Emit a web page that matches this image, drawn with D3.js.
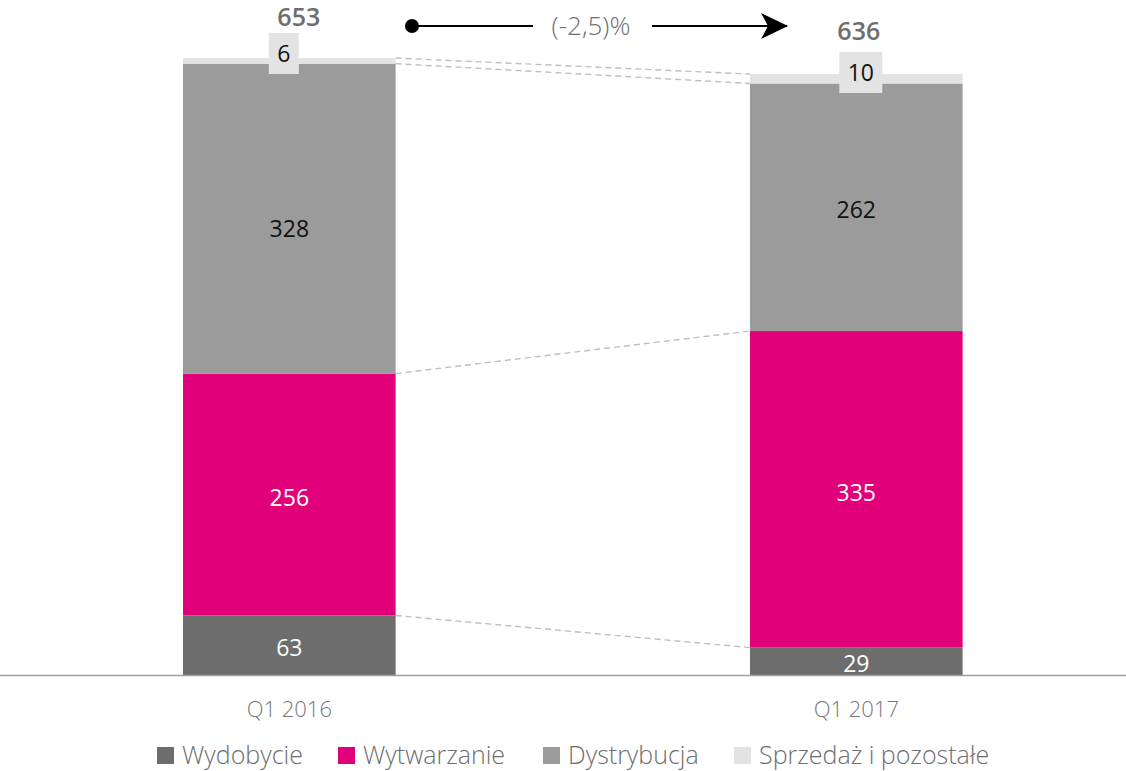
<!DOCTYPE html>
<html><head><meta charset="utf-8">
<script src="https://cdn.jsdelivr.net/npm/d3@7"></script>
<style>body{margin:0;background:#fff}svg{display:block}text{font-family:"Open Sans",sans-serif}</style>
</head><body>
<svg id="c" width="1126" height="771"></svg>
<script>
const categories = ["Q1 2016", "Q1 2017"];
const seriesNames = ["Wydobycie", "Wytwarzanie", "Dystrybucja", "Sprzedaż i pozostałe"];
const wydobycie = [63, 29];
const wytwarzanie = [256, 335];
const dystrybucja = [328, 262];
const sprzedaz = [6, 10];
const totals = [653, 636];
const changeLabel = "(-2,5)%";
const colors = ["#6d6d6d", "#e2007a", "#9b9b9b", "#e3e3e3"];

const svg = d3.select("#c");
const baseY = 675;
const x = d3.scaleBand().domain(categories).range([183, 962.6]).paddingInner(0.625).paddingOuter(0);
const y = d3.scaleLinear().domain([0, 653]).range([baseY, 58]);

const rows = categories.map((c, i) => ({cat: c, v: [wydobycie[i], wytwarzanie[i], dystrybucja[i], sprzedaz[i]]}));
const stack = d3.stack().keys([0,1,2,3]).value((d, k) => d.v[k]);
const layers = stack(rows);

const bw = x.bandwidth();
layers.forEach(layer => {
  svg.append("line")
    .attr("x1", x(categories[0]) + bw).attr("y1", y(layer[0][1]))
    .attr("x2", x(categories[1])).attr("y2", y(layer[1][1]))
    .attr("stroke", "#bfbfbf").attr("stroke-width", 1.4).attr("stroke-dasharray", "6,4");
});

layers.forEach((layer, k) => {
  svg.selectAll(null).data(layer).enter().append("rect")
    .attr("x", d => x(d.data.cat)).attr("width", bw)
    .attr("y", d => y(d[1])).attr("height", d => y(d[0]) - y(d[1]))
    .attr("fill", colors[k]);
});

const labelColors = ["#ffffff", "#ffffff", "#111111", "#111111"];
const labelShift = [[2.5, 2.5], [3, 3], [10, 2]];
[0,1,2].forEach(k => {
  svg.selectAll(null).data(layers[k]).enter().append("text")
    .attr("x", d => x(d.data.cat) + bw/2)
    .attr("y", (d, i) => (y(d[0]) + y(d[1]))/2 + labelShift[k][i])
    .attr("dy", "0.36em").attr("text-anchor", "middle")
    .attr("font-size", 23).attr("fill", labelColors[k])
    .text(d => d.data.v[k]);
});
const boxOff = [-5.5, 4.5];
const boxW = [30, 43];
const boxTop = [33, 52];
layers[3].forEach((d, i) => {
  const cx = x(d.data.cat) + bw/2 + boxOff[i];
  const t = String(d.data.v[3]);
  svg.append("rect").attr("x", cx - boxW[i]/2).attr("y", boxTop[i]).attr("width", boxW[i]).attr("height", 41).attr("fill", colors[3]);
  svg.append("text").attr("x", cx).attr("y", boxTop[i] + 21).attr("dy", "0.36em").attr("text-anchor", "middle")
    .attr("font-size", 23).attr("fill", "#111").text(t);
});
const totOff = [9.5, 2.5];
const totBase = [26, 40];
totals.forEach((t, i) => {
  svg.append("text").attr("x", x(categories[i]) + bw/2 + totOff[i]).attr("y", totBase[i])
    .attr("text-anchor", "middle").attr("font-size", 25).attr("font-weight", 600)
    .attr("fill", "#6e6e6e").text(t);
});

svg.append("line").attr("x1", 0).attr("x2", 1126).attr("y1", baseY + 0.5).attr("y2", baseY + 0.5)
  .attr("stroke", "#a0a0a0").attr("stroke-width", 1.5);
const xAxis = svg.append("g").attr("transform", `translate(0,${baseY})`)
  .call(d3.axisBottom(x).tickSize(0).tickPadding(26));
xAxis.select(".domain").remove();
xAxis.selectAll("text").attr("font-size", 22).attr("fill", "#777").attr("font-family", "Open Sans, sans-serif")
  .attr("font-weight", 300);

const ay = 26;
svg.append("defs").append("marker").attr("id", "ah").attr("viewBox", "0 0 27 26")
  .attr("refX", 26).attr("refY", 13).attr("markerWidth", 27).attr("markerHeight", 26)
  .attr("markerUnits", "userSpaceOnUse").attr("orient", "auto")
  .append("path").attr("d", "M0,0 L27,13 L0,26 L7,13 Z").attr("fill", "#000");
svg.append("circle").attr("cx", 412).attr("cy", ay).attr("r", 7).attr("fill", "#000");
svg.append("line").attr("x1", 412).attr("x2", 533).attr("y1", ay).attr("y2", ay).attr("stroke", "#000").attr("stroke-width", 2.2);
svg.append("line").attr("x1", 652).attr("x2", 787).attr("y1", ay).attr("y2", ay).attr("stroke", "#000").attr("stroke-width", 2.2)
  .attr("marker-end", "url(#ah)");
svg.append("text").attr("x", 591).attr("y", ay).attr("dy", "0.36em").attr("text-anchor", "middle")
  .attr("font-size", 26).attr("font-weight", 300).attr("fill", "#6e6e6e").text(changeLabel);

const legX = [157, 338, 543, 734];
const lg = svg.append("g");
seriesNames.forEach((n, i) => {
  lg.append("rect").attr("x", legX[i]).attr("y", 747).attr("width", 17).attr("height", 17).attr("fill", colors[i]);
  lg.append("text").attr("x", legX[i] + 25).attr("y", 755).attr("dy", "0.36em")
    .attr("font-size", 25).attr("font-weight", 300).attr("fill", "#6e6e6e").text(n);
});
</script>
</body></html>
